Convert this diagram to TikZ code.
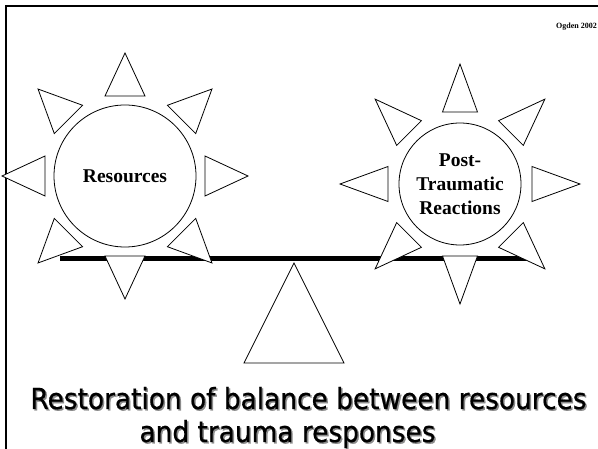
\documentclass[tikz,border=0pt]{standalone}
\usepackage{fontspec}
\usetikzlibrary{calc,positioning}
\newfontfamily\timesfont{Liberation Serif}
\newfontfamily\slidefont[FakeStretch=0.91,FakeBold=0.6]{DejaVu Sans}

\begin{document}
\begin{tikzpicture}[x=1pt,y=-1pt]
\useasboundingbox (0,0) rectangle (598,449);
\tikzstyle{ray}=[draw=black, fill=white, line width=0.8pt, line join=miter]
\tikzstyle{sun}=[circle, draw, fill=white, line width=0.8pt, inner sep=0pt,
  font=\timesfont\bfseries\fontsize{19.5}{24}\selectfont, align=center]
\tikzstyle{title}=[font=\slidefont\fontsize{29}{33}\selectfont, inner sep=0pt, anchor=base]
% frame
\draw[line width=2.4pt] (6,449) -- (6,6) -- (598,6);
\node[font=\timesfont\bfseries\fontsize{8}{9}\selectfont, anchor=east, inner sep=0pt] (ogden) at (597,27) {Ogden 2002};
% beam and fulcrum
\coordinate (barL) at (60,258.5);
\coordinate (barR) at (530,258.5);
\draw[line width=4.5pt] (barL) -- (barR);
\coordinate (top) at (294,263);
\draw[line width=0.8pt, line join=miter] (top) -- (244,363) -- (344,363) -- cycle;
% left sun
\node[sun, minimum size=142pt] (res) at (125,176) {Resources};
\foreach \a in {0,45,...,315}
  \draw[ray] ($(res.center)+(\a:80)+(\a+90:20)$) -- ($(res.center)+(\a:123)$)
    -- ($(res.center)+(\a:80)+(\a-90:20)$) -- cycle;
% right sun
\node[sun, minimum size=122pt] (ptr) at (460,184) {Post-\\Traumatic\\Reactions};
\foreach \a in {0,45,...,315}
  \draw[ray] ($(ptr.center)+(\a:72)+(\a+90:17.5)$) -- ($(ptr.center)+(\a:120)$)
    -- ($(ptr.center)+(\a:72)+(\a-90:17.5)$) -- cycle;
% caption
\node[title, text=black!45] at (310,410.5) {Restoration of balance between resources};
\node[title] (capA) at (308.5,409) {Restoration of balance between resources};
\node[title, text=black!45] at (289,443.5) {and trauma responses};
\node[title] (capB) at (287.5,442) {and trauma responses};
\end{tikzpicture}
\end{document}
